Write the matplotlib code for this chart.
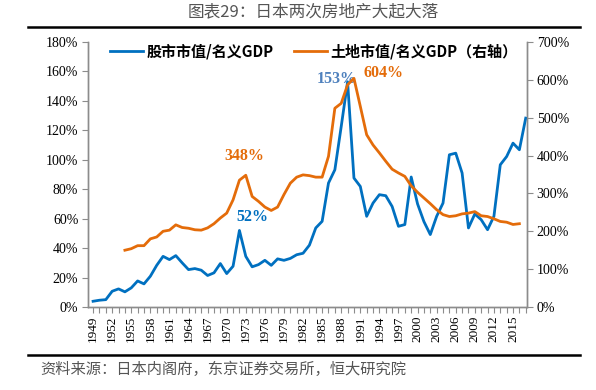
import numpy as np
import matplotlib
matplotlib.use("Agg")
import matplotlib.pyplot as plt
from matplotlib.lines import Line2D

# 数据
years = list(range(1949, 2018))
stock_gdp = [3.9, 4.6, 5.0, 10.7, 12.3, 10.3, 13.0, 17.7, 15.7, 20.9,
             28.3, 34.4, 32.2, 34.9, 30.0, 25.4, 26.1, 25.0, 21.4, 23.2,
             29.5, 22.7, 27.7, 52.0, 34.4, 27.3, 28.8, 31.7, 28.3, 32.7,
             31.7, 33.0, 35.5, 36.5, 42.0, 53.7, 58.2, 84.2, 93.2, 122.6,
             153.0, 87.6, 81.9, 61.6, 70.6, 76.3, 75.6, 68.3, 54.8, 56.0,
             88.3, 70.0, 58.0, 49.2, 61.6, 70.6, 103.4, 104.5, 91.0, 53.7,
             63.2, 59.3, 52.5, 61.6, 96.6, 102.2, 111.3, 106.8, 128.3]
land_years = list(range(1954, 2017))
land_gdp = [150, 154, 162, 162, 180, 185, 200, 203, 217, 210,
            208, 204, 203, 209, 220, 235, 248, 283, 335, 348,
            292, 279, 264, 255, 264, 297, 327, 343, 349, 347,
            343, 343, 398, 525, 538, 587, 604, 530, 455, 428,
            407, 385, 364, 354, 345, 320, 303, 288, 273, 257,
            244, 239, 241, 246, 248, 252, 241, 239, 233, 226,
            224, 218, 220]
left_ticks = list(range(0, 181, 20))
right_ticks = list(range(0, 701, 100))

BLUE = "#0070C0"
ORANGE = "#E46C0A"
GREY = "#8c8c8c"
CJK = ["Noto Sans CJK SC", "DejaVu Sans"]
SERIF = ["Liberation Serif", "DejaVu Serif"]

fig = plt.figure(figsize=(5.96, 3.9), dpi=100)
ax = fig.add_axes([88 / 596, 1 - 307 / 390, (527 - 88) / 596, (307 - 42) / 390])
ax2 = ax.twinx()

ax.plot(years, stock_gdp, color=BLUE, lw=2.0, solid_joinstyle="round", zorder=3)
ax2.plot(land_years, land_gdp, color=ORANGE, lw=2.0, solid_joinstyle="round", zorder=3)

ax.set_xlim(1948.2, 2017.2)
ax.set_ylim(0, 180)
ax2.set_ylim(0, 700)
ax.set_yticks(left_ticks)
ax.set_yticklabels([f"{v}%" for v in left_ticks], fontfamily=SERIF, fontsize=10)
ax2.set_yticks(right_ticks)
ax2.set_yticklabels([f"{v}%" for v in right_ticks], fontfamily=SERIF, fontsize=10)
ax.set_xticks(years)
ax.set_xticklabels([str(y) if (y - 1949) % 3 == 0 else "" for y in years],
                   rotation=90, fontfamily=SERIF, fontsize=9.5)

for a in (ax, ax2):
    a.spines["top"].set_visible(False)
    for s in ("left", "right", "bottom"):
        a.spines[s].set_color(GREY)
        a.spines[s].set_linewidth(1.0)
    a.tick_params(colors=GREY, labelcolor="black", length=4, width=0.8, pad=3)
ax.tick_params(axis="x", length=4, pad=2)

# 标注
ax.text(1987.3, 155, "153%", color="#4F81BD", fontsize=11.5, weight="bold",
        fontfamily=SERIF, ha="center", va="center")
ax2.text(1994.6, 617, "604%", color=ORANGE, fontsize=11.5, weight="bold",
         fontfamily=SERIF, ha="center", va="center")
ax2.text(1972.8, 400, "348%", color=ORANGE, fontsize=11.5, weight="bold",
         fontfamily=SERIF, ha="center", va="center")
ax.text(1974.0, 61, "52%", color=BLUE, fontsize=11.5, weight="bold",
        fontfamily=SERIF, ha="center", va="center")

# 图例
handles = [Line2D([0], [0], color=BLUE, lw=2.0), Line2D([0], [0], color=ORANGE, lw=2.0)]
leg = ax.legend(handles, ["股市市值/名义GDP", "土地市值/名义GDP（右轴）"], ncol=2,
                loc="upper left", bbox_to_anchor=(0.02, 1.045), frameon=False,
                handlelength=2.2, handletextpad=0.2, columnspacing=1.4,
                prop={"family": CJK, "weight": "bold", "size": 10.8})

# 标题、分隔线、来源
fig.text(313 / 596, 1 - 12 / 390, "图表29：日本两次房地产大起大落", ha="center", va="center",
         fontsize=12, color="#555555", fontfamily=CJK, weight="light")
fig.add_artist(Line2D([28 / 596, 580 / 596], [1 - 27 / 390] * 2, color="black", lw=1.8))
fig.add_artist(Line2D([28 / 596, 580 / 596], [1 - 355 / 390] * 2, color="black", lw=1.8))
fig.text(40 / 596, 1 - 369 / 390, "资料来源：日本内阁府，东京证券交易所，恒大研究院",
         ha="left", va="center", fontsize=11, color="#555555", fontfamily=CJK,
         style="italic", weight="light")

fig.savefig("out.png", dpi=100)
